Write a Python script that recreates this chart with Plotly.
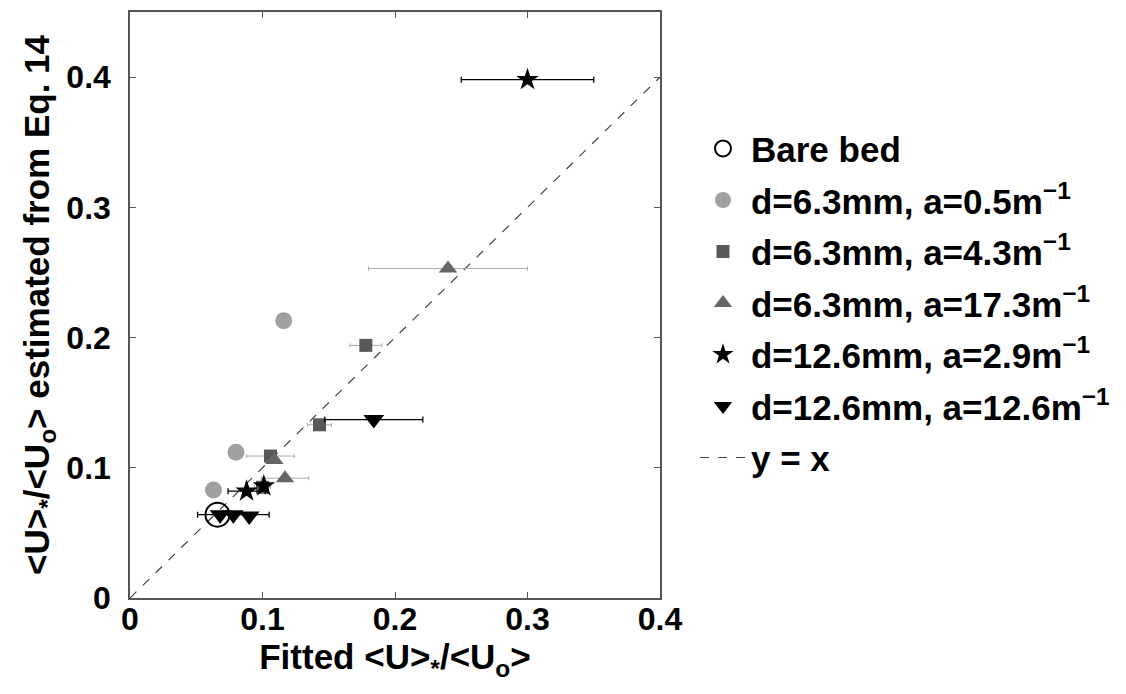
import plotly.graph_objects as go

# ---- data ----
bare_x = [0.066]
bare_y = [0.064]

c05_x = [0.116, 0.080, 0.063]
c05_y = [0.213, 0.112, 0.083]

s43_x = [0.178, 0.143, 0.106, 0.100]
s43_y = [0.194, 0.133, 0.109, 0.085]
s43_err = [0.012, 0.009, 0.018, 0.006]

t173_x = [0.240, 0.109, 0.117]
t173_y = [0.253, 0.106, 0.092]
t173_err = [0.060, 0.0, 0.018]

st29_x = [0.300, 0.088, 0.101]
st29_y = [0.398, 0.082, 0.086]
st29_err = [0.050, 0.014, 0.0]

dt126_x = [0.184, 0.068, 0.078, 0.090]
dt126_y = [0.137, 0.064, 0.064, 0.063]
dt126_err = [0.037, 0.0, 0.027, 0.0]

line_x = [0, 0.4]
line_y = [0, 0.4]

x_ticks = [0, 0.1, 0.2, 0.3, 0.4]
y_ticks = [0, 0.1, 0.2, 0.3, 0.4]

FONT = "Liberation Sans"

fig = go.Figure()

fig.add_trace(go.Scatter(
    x=line_x, y=line_y, mode="lines", name="y = x", legendrank=7,
    line=dict(color="#444444", width=1.2, dash="dash"), legendgroup="g7"))

fig.add_trace(go.Scatter(
    x=s43_x, y=s43_y, mode="markers", name="d=6.3mm, a=4.3m<sup>−1</sup>", legendrank=3,
    legendgroup="g3",
    marker=dict(symbol="square", size=13, color="#585858"),
    error_x=dict(type="data", array=s43_err, color="#aaaaaa", thickness=1, width=2)))

fig.add_trace(go.Scatter(
    x=t173_x, y=t173_y, mode="markers", name="d=6.3mm, a=17.3m<sup>−1</sup>", legendrank=4,
    legendgroup="g4",
    marker=dict(symbol="triangle-up", size=16, color="#666666"),
    error_x=dict(type="data", array=t173_err, color="#aaaaaa", thickness=1, width=2)))

fig.add_trace(go.Scatter(
    x=c05_x, y=c05_y, mode="markers", name="d=6.3mm, a=0.5m<sup>−1</sup>", legendrank=2,
    legendgroup="g2",
    marker=dict(symbol="circle", size=17, color="#a0a0a0")))

fig.add_trace(go.Scatter(
    x=st29_x, y=st29_y, mode="markers", name="d=12.6mm, a=2.9m<sup>−1</sup>", legendrank=5,
    legendgroup="g5",
    marker=dict(symbol="star", size=17, color="#000000"),
    error_x=dict(type="data", array=st29_err, color="#000000", thickness=1.3, width=3)))

fig.add_trace(go.Scatter(
    x=dt126_x, y=dt126_y, mode="markers", name="d=12.6mm, a=12.6m<sup>−1</sup>", legendrank=6,
    legendgroup="g6",
    marker=dict(symbol="triangle-down", size=18, color="#000000"),
    error_x=dict(type="data", array=dt126_err, color="#000000", thickness=1.3, width=3)))

fig.add_trace(go.Scatter(
    x=bare_x, y=bare_y, mode="markers", name="Bare bed", legendrank=1,
    legendgroup="g1",
    marker=dict(symbol="circle-open", size=24, color="#000000", line=dict(width=2))))

axis_common = dict(
    showgrid=False, zeroline=False, showline=True, linecolor="#555555", linewidth=1.5,
    mirror="ticks", ticks="inside", ticklen=6, tickcolor="#555555", automargin=False,
    tickfont=dict(family=FONT, size=32, color="black", weight="bold"),
)

fig.update_xaxes(
    range=[0, 0.4], tickvals=x_ticks, ticktext=["0", "0.1", "0.2", "0.3", "0.4"],
    ticklabelstandoff=-8,
    title=dict(text="Fitted &lt;U&gt;<sub>*</sub>/&lt;U<sub>o</sub>&gt;",
               font=dict(family=FONT, size=35, color="black", weight="bold"), standoff=0),
    **axis_common)
fig.update_yaxes(
    range=[0, 0.45], tickvals=y_ticks, ticktext=["0", "0.1", "0.2", "0.3", "0.4"],
    ticklabelstandoff=11,
    title=dict(text="&lt;U&gt;<sub>*</sub>/&lt;U<sub>o</sub>&gt; estimated from Eq. 14",
               font=dict(family=FONT, size=35, color="black", weight="bold"), standoff=6),
    **axis_common)

fig.update_layout(
    width=1126, height=694,
    margin=dict(l=122, r=474, t=4, b=104),
    plot_bgcolor="white", paper_bgcolor="white",
    legend=dict(
        x=1.066, y=0.817, xanchor="left", yanchor="top",
        font=dict(family=FONT, size=35, color="black", weight="bold"),
        bgcolor="rgba(0,0,0,0)", tracegroupgap=3, itemwidth=46,
    ),
)

fig.write_html("out.html")
